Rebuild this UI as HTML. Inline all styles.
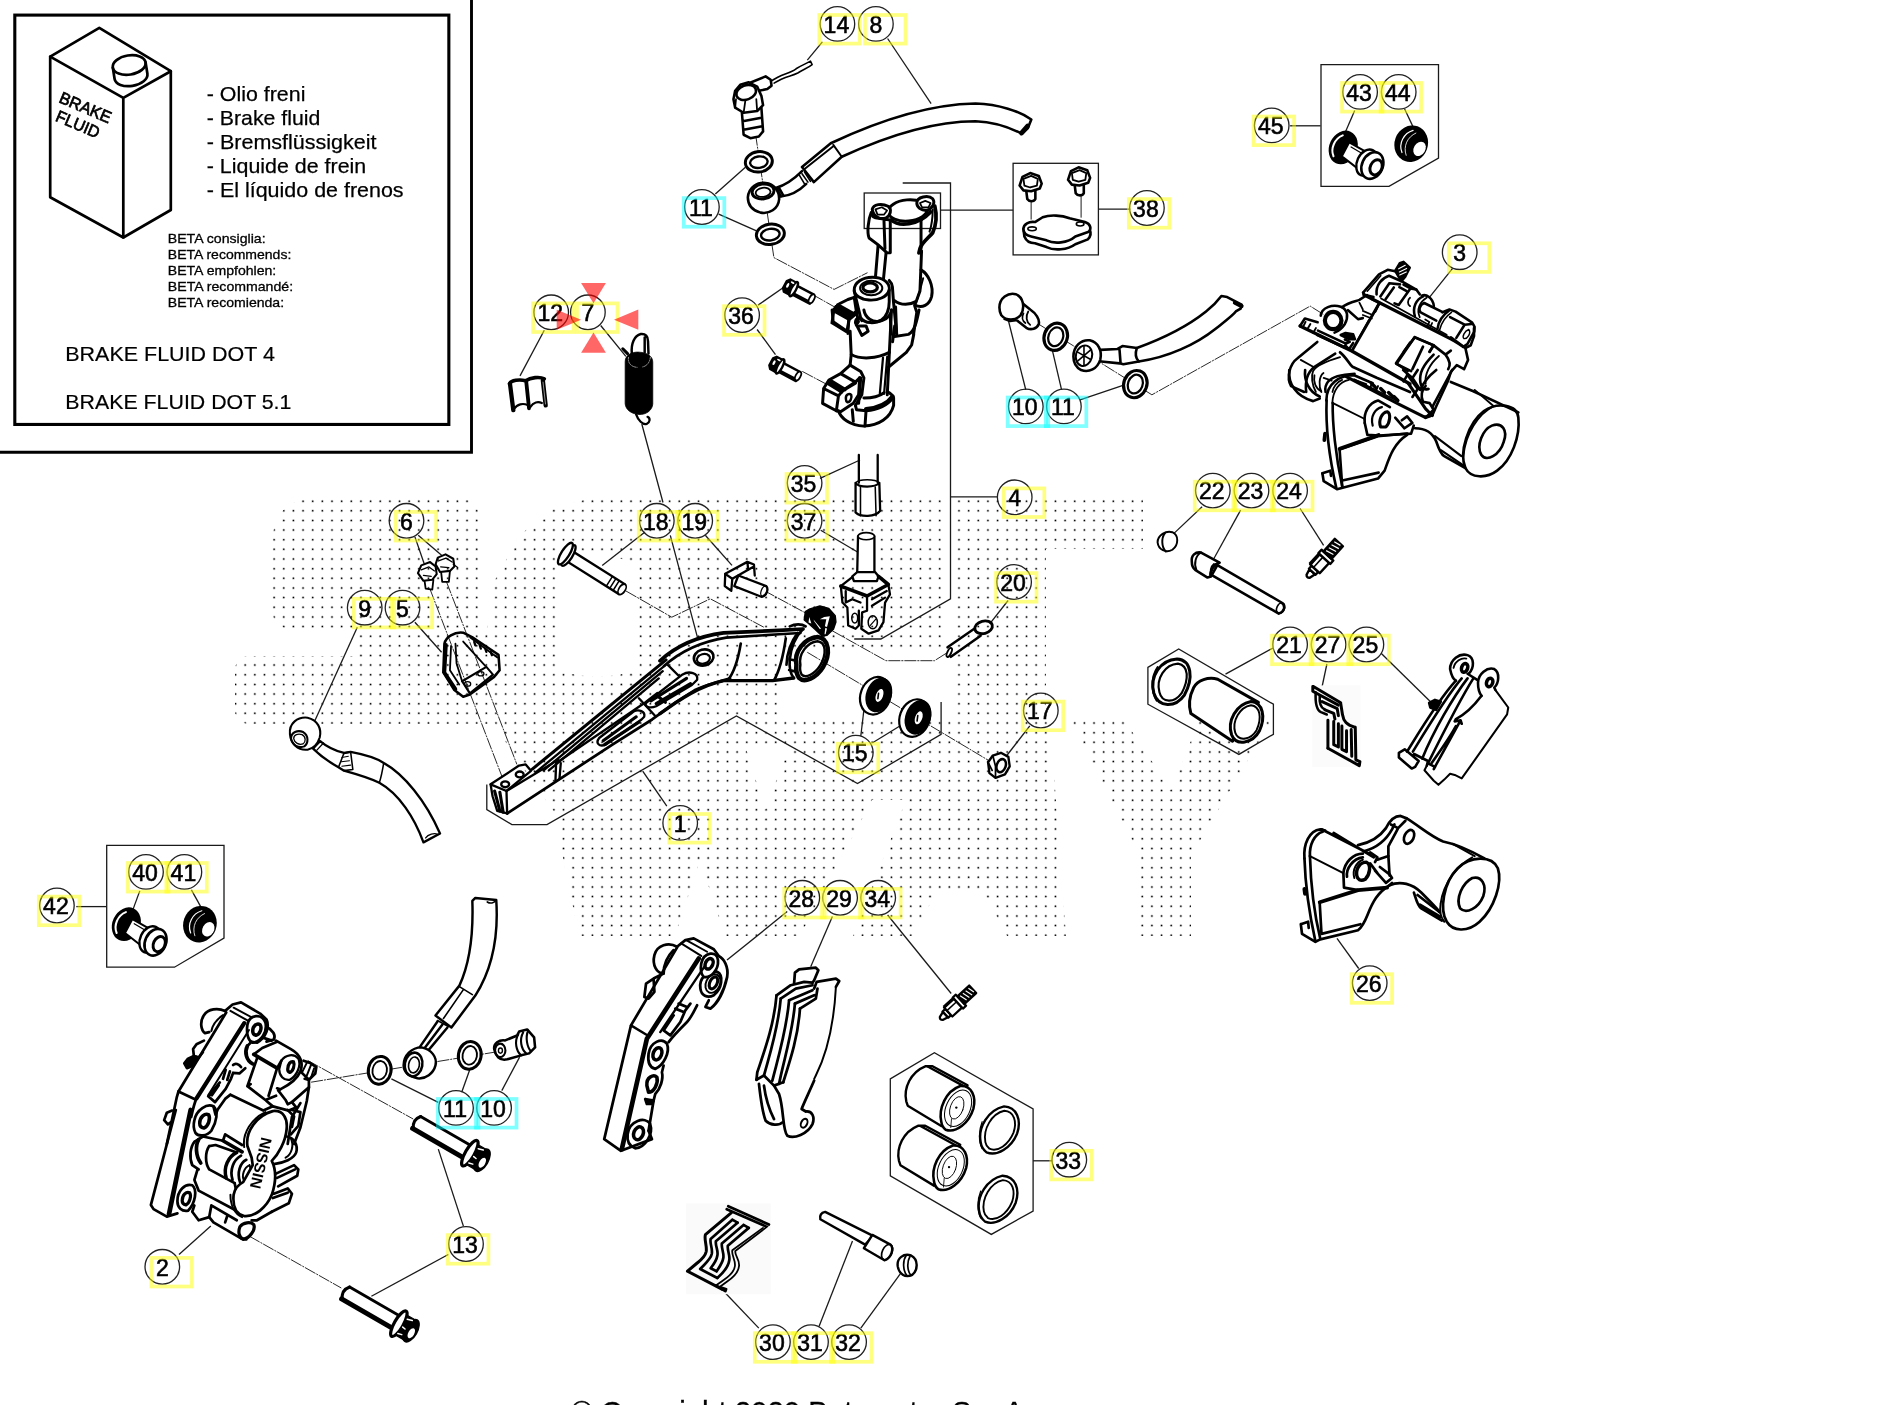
<!DOCTYPE html>
<html><head><meta charset="utf-8"><title>Brake system</title>
<style>
html,body{margin:0;padding:0;background:#fff;}
body{width:1891px;height:1405px;overflow:hidden;position:relative;font-family:"Liberation Sans",sans-serif;}
svg{position:absolute;left:0;top:0;display:block;}
text{filter:grayscale(1);}
.p{fill:#fff;stroke:#000;stroke-width:2;stroke-linejoin:round;stroke-linecap:round;}
.n{fill:none;stroke:#000;stroke-width:2;stroke-linejoin:round;stroke-linecap:round;}
.t{fill:none;stroke:#000;stroke-width:1.2;stroke-linejoin:round;stroke-linecap:round;}
.k{fill:#000;stroke:#000;stroke-width:1.5;stroke-linejoin:round;}
.l{fill:none;stroke:#1a1a1a;stroke-width:1.3;}
.d{fill:none;stroke:#2a2a2a;stroke-width:1;stroke-dasharray:12 1 2 1;}
.c{fill:none;stroke:#222;stroke-width:1.3;}
.cn{font-family:"Liberation Sans",sans-serif;font-size:23px;text-anchor:middle;fill:#000;stroke:#000;stroke-width:0.6;}
.hy{fill:none;stroke:#ffff00;stroke-opacity:0.5;stroke-width:3.7;}
.hc{fill:none;stroke:#00ffff;stroke-opacity:0.5;stroke-width:3.7;}
.tx{font-family:"Liberation Sans",sans-serif;fill:#000;}
</style></head><body>
<svg width="1891" height="1405" viewBox="0 0 1891 1405">
<!-- 00_watermark.svg -->
<clipPath id="wm">
<path d="M317 498.6 H459 Q479 498.6 479 518 V629 H491 V724 H250 Q235 724 235 709 V671 Q235 656 250 656 H355 V629 H292 Q272.5 629 272.5 610 V543 Q272.5 498.6 317 498.6 Z"/>
<path clip-rule="evenodd" d="M590 498 H1143 V549 H1046 V721 H1050 L1066 936 H1007 L985 895 H935 L912 936 H579 L562 853 L559 819 L511 751 L491 717 L485 640 L495 580 L520 535 L550 510 Z
M586 557 H609 Q639 557 639 587 V646 Q639 676 609 676 H586 Q556 676 556 646 V587 Q556 557 586 557 Z
M780 650 H944 V498 H954 V718 H780 Z
M872 800 H906 L853 936 H800 Z
M745 745 H790 L765 810 Z
M700 860 L675 936 H725 Z"/>
<path d="M1071 721 H1125 L1171 790 L1199 721 H1271 L1191 856 V936 H1140 V856 Z"/>
</clipPath>
<defs><path id="wmd" d="M235.54 501.14H1280M235.54 510.78H1280M235.54 520.43H1280M235.54 530.07H1280M235.54 539.72H1280M235.54 549.37H1280M235.54 559.01H1280M235.54 568.66H1280M235.54 578.30H1280M235.54 587.95H1280M235.54 597.60H1280M235.54 607.24H1280M235.54 616.89H1280M235.54 626.53H1280M235.54 636.18H1280M235.54 645.83H1280M235.54 655.47H1280M235.54 665.12H1280M235.54 674.76H1280M235.54 684.41H1280M235.54 694.06H1280M235.54 703.70H1280M235.54 713.35H1280M235.54 722.99H1280M235.54 732.64H1280M235.54 742.29H1280M235.54 751.93H1280M235.54 761.58H1280M235.54 771.22H1280M235.54 780.87H1280M235.54 790.52H1280M235.54 800.16H1280M235.54 809.81H1280M235.54 819.45H1280M235.54 829.10H1280M235.54 838.75H1280M235.54 848.39H1280M235.54 858.04H1280M235.54 867.68H1280M235.54 877.33H1280M235.54 886.98H1280M235.54 896.62H1280M235.54 906.27H1280M235.54 915.91H1280M235.54 925.56H1280M235.54 935.21H1280"/></defs>
<g clip-path="url(#wm)" fill="none" stroke="#000" stroke-linecap="round" stroke-dasharray="0 9.646"><use href="#wmd" stroke-width="3.0" stroke-opacity="0.22"/><use href="#wmd" stroke-width="1.5"/></g>

<!-- 01_box.svg -->
<g id="infobox">
<path d="M0 452.25 H471.5 V0" fill="none" stroke="#000" stroke-width="2.9"/>
<rect x="14.8" y="15.1" width="434.05" height="409.35" fill="none" stroke="#000" stroke-width="3.1"/>
<g fill="none" stroke="#000" stroke-width="2.7" stroke-linejoin="round" stroke-linecap="round">
<path d="M99.3 27.9 L50.2 56.6 L50.2 197.2 L123.3 237.5 L170.8 210 L170.8 71.2 Z"/>
<path d="M50.2 56.6 L123.3 97.9 L170.8 71.2 M123.3 97.9 V237.5"/>
<g transform="rotate(-9 129.2 65)">
<ellipse cx="129.2" cy="65" rx="16.6" ry="9.6" fill="#fff"/>
<path d="M112.6 65 V76.5 A16.6 9.6 0 0 0 145.8 76.5 V65"/>
</g>
</g>
<text class="tx" font-size="16.5" stroke="#000" stroke-width="0.7" transform="translate(57.9 102) rotate(23)" textLength="55" lengthAdjust="spacingAndGlyphs">BRAKE</text>
<text class="tx" font-size="16.5" stroke="#000" stroke-width="0.7" transform="translate(54.6 120.5) rotate(23)" textLength="46" lengthAdjust="spacingAndGlyphs">FLUID</text>
<g class="tx" font-size="21" stroke="#000" stroke-width="0.25" lengthAdjust="spacingAndGlyphs">
<text x="206.8" y="100.9" textLength="98.6" lengthAdjust="spacingAndGlyphs">- Olio freni</text>
<text x="206.8" y="124.9" textLength="113.5" lengthAdjust="spacingAndGlyphs">- Brake fluid</text>
<text x="206.8" y="148.8" textLength="169.7" lengthAdjust="spacingAndGlyphs">- Bremsflüssigkeit</text>
<text x="206.8" y="172.7" textLength="159.4" lengthAdjust="spacingAndGlyphs">- Liquide de frein</text>
<text x="206.8" y="196.5" textLength="196.8" lengthAdjust="spacingAndGlyphs">- El líquido de frenos</text>
</g>
<g class="tx" font-size="13" stroke="#000" stroke-width="0.3">
<text x="167.8" y="243.3" textLength="97.8" lengthAdjust="spacingAndGlyphs">BETA consiglia:</text>
<text x="167.8" y="259.3" textLength="123.5" lengthAdjust="spacingAndGlyphs">BETA recommends:</text>
<text x="167.8" y="275.3" textLength="108.5" lengthAdjust="spacingAndGlyphs">BETA empfohlen:</text>
<text x="167.8" y="291.3" textLength="125.3" lengthAdjust="spacingAndGlyphs">BETA recommandé:</text>
<text x="167.8" y="307.4" textLength="116.3" lengthAdjust="spacingAndGlyphs">BETA recomienda:</text>
</g>
<g class="tx" font-size="21" stroke="#000" stroke-width="0.2">
<text x="65.3" y="360.6" textLength="209.6" lengthAdjust="spacingAndGlyphs">BRAKE FLUID DOT 4</text>
<text x="65.3" y="408.5" textLength="226.1" lengthAdjust="spacingAndGlyphs">BRAKE FLUID DOT 5.1</text>
</g>
</g>

<!-- 02_frames.svg -->
<g class="l" stroke-width="1.4">
<path d="M1321 64.6 H1438.5 V158.1 L1389 186.3 H1321 Z"/>
<path d="M106.7 845.4 H224 V938.1 L174.5 967.2 H106.7 Z"/>
<rect x="1013.1" y="163.3" width="85.3" height="91.6"/>
<rect x="864.2" y="193" width="76.3" height="35.5"/>
<path d="M890.3 1078.9 L934.4 1052.8 L1033.1 1109 V1211 L991.3 1234.4 L890.3 1175.9 Z"/>
<path d="M1147.9 667.4 L1178.7 649 L1273.4 704.2 V734.3 L1238.9 754.4 L1147.9 704.2 Z"/>
<path d="M486.8 784.5 V809.6 L511.9 824.6 H547 L736.4 715.9 L857.5 783.5 L941.1 734.3 V701.9"/>
<path d="M902.7 183 H950.5 V598.8 L880.9 639 H854.2"/>
<path d="M950.5 496.8 H998"/>
</g>

<!-- 03_leaders.svg -->
<g class="l">
<path d="M544.3 330.2 L520 375.9"/>
<path d="M600.7 325.5 L625.9 356.3"/>
<path d="M822.4 41.8 L807.3 60.2"/>
<path d="M887.6 38.5 L931.1 103.7"/>
<path d="M715.3 194 L745.4 167.3"/>
<path d="M718.7 214.1 L756.5 230.9"/>
<path d="M758.1 305.1 L785.6 286"/>
<path d="M757.1 329.5 L775.5 354.6"/>
<path d="M940.5 210.1 H1013.1"/>
<path d="M1098.4 209.1 H1130.2"/>
<path d="M1025.8 389.8 L1008.1 319.5"/>
<path d="M1061.6 389.8 L1052.2 349.6"/>
<path d="M1080 399.8 L1125.2 384.7"/>
<path d="M1290.1 125.8 H1320.6"/>
<path d="M1354.7 110.4 L1345.3 132.2"/>
<path d="M1404.5 108.7 L1413.2 127.1"/>
<path d="M1452.4 268.7 L1429 297.8"/>
<path d="M414.9 536.9 L424.2 563.7"/>
<path d="M418.2 535.2 L441.6 555.3"/>
<path d="M357.3 627.2 L314.5 721.6"/>
<path d="M414.9 622.2 L441.6 652.3"/>
<path d="M76.3 906.6 H106.4"/>
<path d="M139.8 890.9 L132.2 911.6"/>
<path d="M191.4 889.9 L200.7 906.6"/>
<path d="M666.8 806.2 L642.7 771.1"/>
<path d="M645 532 L602.2 565.4"/>
<path d="M641.8 424 L663 502.5 M670.3 535.3 L698.2 640.2"/>
<path d="M705.3 535.2 L732 565.4"/>
<path d="M820 478.4 L860 460"/>
<path d="M820.7 530.2 L857.5 552"/>
<path d="M1008.1 600.5 L989.7 623.9"/>
<path d="M1029.8 725.9 L1006.4 756"/>
<path d="M860.8 736 L864.2 707.5"/>
<path d="M872.6 742.7 L902.7 724.3"/>
<path d="M787.2 911.6 L727 960.1"/>
<path d="M832.4 916.6 L810.7 966.8"/>
<path d="M887.6 915 L951.2 993.5"/>
<path d="M1202.1 506.8 L1173.7 533.6"/>
<path d="M1240.6 510.1 L1213.8 558.7"/>
<path d="M1225.5 674.1 L1273 648"/>
<path d="M1300.1 508.5 L1323.6 545.3"/>
<path d="M1326.9 664 L1321.9 687.5"/>
<path d="M1381.1 653.3 L1431.3 702.5"/>
<path d="M1337 938.3 L1358.7 968.5"/>
<path d="M438.3 1102.3 L391.4 1078.9"/>
<path d="M461.7 1092.2 L470.1 1068.8"/>
<path d="M501.8 1090.6 L519.6 1057.1"/>
<path d="M463.4 1226.1 L438.3 1149.1"/>
<path d="M448.3 1254.5 L371.4 1296.3"/>
<path d="M179 1254.5 L210.8 1226.1"/>
<path d="M1033.1 1160.8 H1052.2"/>
<path d="M758.8 1328.1 L723.7 1291.3"/>
<path d="M819 1326.4 L852.5 1241.1"/>
<path d="M860.8 1328.1 L901 1272.9"/>
</g>
<g class="d">
<path d="M755.5 133.8 L773.9 257.6 L834.1 289.4 L867.5 272.7"/>
<path d="M812.3 294.4 L839.1 309.5"/>
<path d="M802.3 371.4 L827.4 384.7"/>
<path d="M1036.5 322.8 L1151.9 394.8 L1310.2 306.1 L1323.6 314.5"/>
<path d="M429.9 588.8 L501.8 776.1"/>
<path d="M446.6 582.1 L516.9 764.4"/>
<path d="M626 591 L671.8 617.2 L710.3 598.8 L763.8 627.2"/>
<path d="M763.8 590.4 L807.3 613.9"/>
<path d="M946.2 653.3 L934.5 660.7 H885.9 L830.7 629.9"/>
<path d="M807.3 652.3 L989.7 761.1"/>
<path d="M311.1 1082.2 L495.1 1052.1"/>
<path d="M307.8 1060.5 L413.2 1119"/>
<path d="M249.2 1236.1 L341.3 1288"/>
</g>

<!-- p_01_pedal.svg -->
<g transform="translate(480,640) scale(0.13242)" fill="none" stroke="#000" stroke-width="17.5" stroke-linejoin="round" stroke-linecap="round">
<path d="M80 1090 L295 948 L345 940 L385 988 L200 1140 Z"/>
<path d="M80 1090 L95 1180 L130 1290 L205 1310 L200 1140"/>
<path d="M110 1140 L150 1290 M150 1150 L175 1300" stroke-width="23.4"/>
<ellipse cx="190" cy="1090" rx="30" ry="22"/><ellipse cx="300" cy="1015" rx="30" ry="22"/>
<path d="M205 1310 L1000 790 L1300 600 L1480 470 L1620 380 C1700 340 1800 320 1888 290" stroke-width="21.1"/>
<path d="M200 1140 L590 905"/>
<path d="M395 975 L1405 150" stroke-width="23.4"/>
<path d="M420 1000 L1400 190 M480 985 L1380 235 M520 985 L1350 290"/>
<path d="M590 920 L1250 470 L1340 400"/>
<path d="M575 920 L570 1060 M610 930 L600 1050 M1200 440 L1320 570 M1420 190 L1500 270"/>
<path d="M900 740 L1160 540 C1200 520 1250 540 1240 580 L1220 600 L950 790 C900 810 870 780 900 740 Z"/>
<path d="M930 760 L1180 580 M940 790 L1200 620" stroke-width="23.4"/>
<path d="M1260 470 L1530 260 C1580 230 1650 250 1640 300 L1600 340 L1330 500 C1280 520 1230 500 1260 470 Z"/>
<path d="M1290 460 L1560 290 M1330 480 L1590 330 M1350 430 L1400 470" stroke-width="23.4"/>
</g>
<g transform="translate(660,580) scale(0.13242)" fill="none" stroke="#000" stroke-width="19.9" stroke-linejoin="round" stroke-linecap="round">
<path d="M0 610 C100 520 250 430 480 400 L900 380 L1080 370" stroke-width="28.1"/>
<path d="M30 650 C130 560 280 470 500 435 L900 410 L1060 400"/>
<path d="M0 1010 C150 900 300 800 480 760 L850 760 L1010 740" stroke-width="25.7"/>
<path d="M610 480 C590 600 560 700 510 760 M950 440 C930 580 900 690 860 760"/>
<path d="M1080 370 C1030 420 990 500 980 600 C975 660 985 710 1010 740 M1040 400 C1000 450 960 540 955 640 M985 600 L1030 610 M975 680 L1020 690"/>
<path d="M1030 640 C1010 540 1090 440 1190 430 C1280 440 1290 560 1230 660 C1180 740 1090 780 1050 740 C1030 710 1025 680 1030 640 Z" stroke-width="34"/>
<path d="M1060 640 C1045 560 1110 470 1190 462 C1255 470 1260 560 1210 645 C1170 710 1100 745 1070 715 C1058 695 1055 670 1060 640 Z" stroke-width="18.7"/>
<path d="M980 350 C1020 330 1070 330 1100 350"/>
<ellipse cx="330" cy="585" rx="75" ry="60" transform="rotate(-15 330 585)"/>
<ellipse cx="328" cy="595" rx="50" ry="36" transform="rotate(-15 328 595)" stroke-width="16.4"/>
</g>
<g transform="translate(795,595) scale(0.035587)">
<path d="M290 470 L420 390 L700 310 L950 380 L1130 580 L1150 760 L1080 960 L900 1130 L760 1150 L560 960 L380 800 L260 700 Z" fill="#000" stroke="#000" stroke-width="40" stroke-linejoin="round"/>
<path d="M400 620 L460 800 L380 770 Z M520 690 L730 940 L700 960 L540 740 Z M700 680 L820 620 L980 600 L900 900 L840 880 L880 680 Z M850 930 L900 940 L860 1100 L830 1100 Z" fill="#fff"/>
</g>

<!-- p_02_frontcal.svg -->
<g transform="translate(135,995) scale(0.10604)" fill="none" stroke="#000" stroke-width="25.7" stroke-linejoin="round" stroke-linecap="round">
<path d="M850 150 L920 90 L1000 70 L1180 175 L1240 230 C1270 300 1240 400 1150 450 L1090 440"/>
<path d="M900 150 L1060 240 M930 120 L1100 210" stroke-width="18.7"/>
<path d="M1060 280 C1080 180 1200 170 1230 260 C1250 350 1190 440 1110 450 C1060 430 1050 350 1060 280 Z"/>
<path d="M1110 340 C1110 290 1150 260 1180 280 C1200 310 1180 370 1140 380 C1115 375 1110 360 1110 340 Z" stroke-width="32.8"/>
<path d="M1240 300 C1300 330 1330 380 1310 420 L1240 440 M1200 400 L1290 430"/>
<path d="M850 150 C780 120 690 130 650 190 C610 250 620 330 660 360 L700 350"/>
<path d="M830 190 C770 230 730 290 720 340" stroke-width="18.7"/>
<path d="M860 165 L410 910"/>
<path d="M1030 265 L580 975" stroke-width="39.8"/>
<path d="M1075 330 L690 945" stroke-width="18.7"/>
<path d="M410 910 L570 985 M410 910 L395 960 L300 1405"/>
<path d="M580 975 C560 1020 545 1080 530 1150"/>
<path d="M650 430 L580 465 L548 510 L555 575 L600 590 L640 540"/>
<path d="M555 575 L500 600 L465 645 L490 690 L540 670 L600 590 Z" fill="#000"/>
<path d="M350 1090 L300 1110 L275 1180 L310 1220 L340 1200"/>
<path d="M800 825 L690 955 L755 1010 L855 885 L905 790 L925 735 M790 850 L725 945 M855 705 L830 790 M895 720 L870 800 M925 735 L985 740 L1040 690 M925 660 C945 640 980 650 1000 680"/>
<path d="M1330 430 L1470 510 C1560 560 1590 640 1560 720 C1530 790 1450 850 1370 890 L1340 880"/>
<path d="M1340 440 L1200 500 L1120 560"/>
<path d="M1380 620 C1420 560 1500 550 1540 600 C1570 660 1530 760 1460 800 C1400 810 1360 760 1360 700 Z" stroke-width="21.1"/>
<path d="M1440 700 C1440 650 1470 620 1495 630 C1510 660 1490 720 1460 730 C1445 725 1440 715 1440 700 Z" stroke-width="30.4"/>
<path d="M1120 560 L1340 690" stroke-width="35.1"/>
<path d="M1340 690 L1380 620 M1340 690 L1260 950 M1150 600 L1060 860 L1230 990 L1330 950 M1060 860 L1090 840"/>
<path d="M1060 480 C1030 540 1050 620 1110 650" stroke-width="35.1"/>
<path d="M1090 450 L1060 480"/>
<path d="M1590 620 L1650 640 L1710 680 L1700 740 L1640 800 L1600 790"/>
<path d="M1620 640 L1580 720 M1660 660 L1620 760 M1690 690 L1660 780" stroke-width="18.7"/>
<path d="M1560 720 L1640 800 L1640 870 L1480 1010 L1440 1030 L1420 990 L1350 900 L1370 890"/>
<path d="M1480 1010 L1520 1060 L1450 1090 L1300 1050 L1240 1000"/>
<path d="M1640 870 L1620 1000 L1560 1250 L1500 1405 M1560 1020 L1480 1150 L1440 1405"/>
<path d="M900 940 L1210 1090 L1300 1050 M900 940 L850 980 L780 1080 L760 1130 L740 1050"/>
<path d="M560 1180 C580 1080 680 1020 740 1050 C790 1090 770 1200 720 1280 C680 1330 600 1340 570 1300 C550 1260 550 1220 560 1180 Z"/>
<path d="M610 1210 C610 1150 660 1110 695 1130 C715 1170 690 1240 650 1255 C620 1250 610 1235 610 1210 Z" stroke-width="32.8"/>
</g>
<g transform="translate(135,1110) scale(0.10604)" fill="none" stroke="#000" stroke-width="25.7" stroke-linejoin="round" stroke-linecap="round">
<path d="M385 0 L150 895 L175 935 L300 1005 L400 975"/>
<path d="M525 0 L320 985" stroke-width="44.5"/>
<path d="M400 860 C400 760 470 690 540 710 C590 750 570 880 500 950 C440 960 400 920 400 860 Z"/>
<path d="M445 855 C445 800 485 765 515 780 C535 810 515 880 480 895 C455 890 445 875 445 855 Z" stroke-width="30.4"/>
<path d="M560 300 C520 350 510 450 540 520 L600 560 M560 300 L640 250 L830 290 L850 230 L1010 330"/>
<path d="M600 280 C570 330 570 430 620 500" stroke-width="35.1"/>
<path d="M700 340 C660 400 660 500 700 560 L940 690 M700 340 L760 330 L960 400"/>
<path d="M960 400 C880 440 830 540 860 640" stroke-width="32.8"/>
<path d="M1000 430 C930 470 890 560 920 660 M1050 470 C990 500 960 590 990 680"/>
<path d="M1080 520 C1030 540 1000 620 1030 670 C1080 680 1110 600 1080 520" stroke-width="18.7"/>
<path d="M830 290 L1010 395" stroke-width="35.1"/>
<path d="M1060 340 C1040 200 1150 50 1300 10 C1400 0 1440 80 1430 180 C1420 300 1350 420 1290 480 C1330 560 1330 680 1290 800 C1240 920 1130 1010 1030 1000 C950 980 920 900 930 800 C940 740 980 700 1020 680 L1110 520 L1100 450 Z" fill="#fff"/>
<path d="M1030 350 C1010 220 1100 80 1230 20 M900 800 C900 900 940 980 1010 1010" stroke-width="18.7"/>
<path d="M1430 250 C1500 260 1540 330 1520 400 C1500 460 1400 500 1310 510"/>
<path d="M1470 270 C1500 330 1480 420 1420 450" stroke-width="18.7"/>
<path d="M1330 600 L1500 520 L1540 560 L1530 620 L1350 720 M1340 640 L1510 560"/>
<path d="M1310 790 L1440 740 L1480 790 L1450 880 L1290 960 M1300 830 L1440 780"/>
<path d="M1290 960 L1150 1040 L1100 1040"/>
<path d="M1480 0 L1560 20 L1540 150 L1470 230 M1440 0 L1500 60 L1480 160"/>
<path d="M720 900 L700 1010 L740 1060 L1000 1210 L1050 1220 M720 900 L960 1040"/>
<path d="M990 1100 C1020 1060 1090 1050 1120 1080 C1140 1130 1080 1210 1020 1220 C980 1200 970 1150 990 1100 Z" stroke-width="30.4"/>
<path d="M560 900 L540 960 L600 1040 L700 1010 M870 1000 L850 1060"/>
<path d="M600 760 L940 940 M560 660 L600 760 M590 560 L560 660 M940 690 L950 740"/>
</g>
<text class="tx" font-size="15.5" font-weight="bold" transform="translate(261.5,1136.5) rotate(103)" textLength="52" lengthAdjust="spacingAndGlyphs">NISSIN</text>

<!-- p_03a_rearcal_top.svg -->
<g transform="translate(1350,255) scale(0.069037)" fill="none" stroke="#000" stroke-width="37.4" stroke-linejoin="round" stroke-linecap="round">
<path d="M190 545 L420 280 L545 215 L655 235"/>
<path d="M250 525 L445 300" stroke-width="23.4"/>
<path d="M190 545 L205 575 L340 610"/>
<path d="M385 570 C370 430 470 330 565 300 L745 380 L960 500 L1010 570"/>
<path d="M655 230 L720 120 L775 100 L865 185 L800 315 L745 380 Z" fill="#000"/>
<path d="M705 200 L800 150 M715 245 L820 195 M720 290 L815 245" stroke="#fff" stroke-width="16.4"/>
<path d="M570 410 L440 600 M570 410 L725 425 M635 470 L515 640"/>
<path d="M775 430 L875 485 L705 725 L645 700 M715 465 L815 520"/>
<path d="M875 485 L960 500"/>
<path d="M200 575 L1480 1225" stroke-width="46.8"/>
<path d="M450 630 L1400 1155" stroke-width="25.7"/>
<path d="M1060 600 C960 640 900 760 940 890"/>
<path d="M1110 620 C1010 680 960 790 1010 900" stroke-width="25.7"/>
<path d="M1040 590 C1100 560 1200 620 1215 740"/>
<path d="M1075 695 L1335 825 M1030 835 L1250 950 M1075 695 C1000 720 990 820 1030 835"/>
<path d="M1090 935 L1150 970 L1120 1030 M1190 985 L1160 1050" stroke-width="25.7"/>
<path d="M870 620 C830 650 830 720 870 740" stroke-width="25.7"/>
<path d="M1340 830 L1440 790 L1530 820 L1770 980 L1805 1040 L1800 1110 L1700 1290 L1640 1330"/>
<path d="M1440 800 C1330 880 1280 980 1270 1060"/>
<path d="M1470 830 C1370 900 1320 1000 1300 1080" stroke-width="23.4"/>
<path d="M1450 900 L1660 1010 L1540 1200 M1660 1010 L1760 1000"/>
<path d="M1720 1080 C1660 1100 1620 1180 1650 1210 C1700 1220 1760 1130 1720 1080" stroke-width="21.1"/>
<path d="M1480 1230 L1580 1290 L1640 1330"/>
<path d="M940 1190 L780 1400 M940 1190 L1210 1310 L1150 1400"/>
</g>
<g transform="translate(1280,295) scale(0.069037)" fill="none" stroke="#000" stroke-width="37.4" stroke-linejoin="round" stroke-linecap="round">
<path d="M590 300 C600 180 760 130 880 170 C990 210 990 330 940 420 C900 480 830 530 790 545"/>
<ellipse cx="770" cy="370" rx="120" ry="125" stroke-width="60.8"/>
<path d="M900 175 C1000 100 1100 90 1150 70 L1260 0"/>
<path d="M985 220 L1130 350 L1200 335"/>
<path d="M1150 110 L1200 210 M1200 230 L1340 290 M1200 290 L1330 340" stroke-width="25.7"/>
<path d="M1330 60 L1440 110 L1380 240"/>
<path d="M1440 115 L1045 805" stroke-width="42.1"/>
<path d="M1285 365 L1110 680" stroke-width="23.4"/>
<path d="M880 580 L950 550 L1060 570 L1085 640 L1000 640 Z" fill="#000"/>
<path d="M290 450 L360 340 L545 395"/>
<path d="M370 390 L340 450 M440 420 L400 490 M520 480 L480 550" stroke-width="28.1"/>
<path d="M290 450 L1040 810 L1883 1290" stroke-width="49.1"/>
<path d="M550 515 L955 705 L1010 680 L940 645 M955 705 L935 760 L540 580"/>
<path d="M960 745 L1000 785 L1060 695"/>
<path d="M870 830 C960 900 1000 1000 1050 1040 L1400 1200 L1883 1405" stroke-width="39.8"/>
<path d="M540 680 L250 920 C140 1000 90 1200 160 1320 L350 1405"/>
<path d="M300 940 L480 1040" stroke-width="25.7"/>
<path d="M800 850 L500 1040 C400 1120 360 1250 380 1405"/>
<path d="M870 900 C700 950 520 1030 480 1100 C450 1170 460 1300 520 1405" stroke-width="25.7"/>
<path d="M630 1130 C560 1180 560 1330 600 1405" stroke-width="25.7"/>
<path d="M1080 1140 C900 1150 760 1180 700 1250 C660 1300 650 1360 660 1405"/>
<path d="M900 1230 C820 1260 770 1340 760 1405" stroke-width="25.7"/>
<path d="M1883 690 L1680 990 L1850 1100 M1850 1150 L1790 1250"/>
<path d="M1080 1230 L1250 1290 M1330 1280 L1310 1340 M1420 1320 L1390 1390" stroke-width="28.1"/>
</g>

<!-- p_03b_rearcal_low.svg -->
<g transform="translate(1280,250) scale(0.13242)" fill="none" stroke="#000" stroke-width="19.9" stroke-linejoin="round" stroke-linecap="round">
<path d="M1290 660 L1400 740 L1420 830 L1390 900 L1335 870 L1290 920 L1270 985 L1180 1180 L1150 1250 L1090 1260"/>
<path d="M1015 660 L880 860 L990 915 M1015 660 L1160 720 L1130 770 M1080 730 L1000 900"/>
<path d="M1160 790 C1080 870 1050 930 1060 1000 C1065 1040 1090 1060 1120 1050"/>
<path d="M1200 800 C1130 860 1090 940 1100 1010" stroke-width="14"/>
<path d="M1250 790 C1280 830 1290 870 1270 900 M1160 720 L1250 790 L1290 760"/>
<path d="M1400 740 L1440 720 L1465 650 L1465 590"/>
<path d="M960 940 L1040 1050 L1000 1110 M1040 1050 L1120 1050"/>
<path d="M970 1010 L1100 1200 L1150 1250" stroke-width="23.4"/>
</g>
<g transform="translate(1280,370) scale(0.13242)" fill="none" stroke="#000" stroke-width="19.9" stroke-linejoin="round" stroke-linecap="round">
<path d="M1400 740 C1350 620 1420 400 1540 310 C1640 240 1790 260 1800 360 C1815 500 1750 680 1640 760 C1560 820 1440 820 1400 740 Z"/>
<path d="M1520 640 C1480 570 1530 450 1600 420 C1680 390 1720 460 1690 540 C1660 640 1560 700 1520 640 Z"/>
<path d="M1610 275 C1500 330 1400 480 1385 650" stroke-width="14"/>
<path d="M1290 90 L1460 160 L1800 320"/>
<path d="M1470 150 L1610 270" stroke-width="14"/>
<path d="M1020 440 C1100 440 1150 470 1180 540 C1200 600 1220 640 1240 650 L1400 740"/>
<path d="M1170 500 L1370 650 M1215 605 L1385 720" stroke-width="16.4"/>
<path d="M350 230 C350 100 450 40 560 40 L700 100"/>
<path d="M395 250 C400 150 450 90 520 75" stroke-width="14"/>
<path d="M352 230 C345 400 370 650 425 890" />
<path d="M398 250 C395 400 420 650 470 880"/>
<path d="M340 480 L335 530" stroke-width="28.1"/>
<path d="M320 780 L330 840 L430 900 L740 820 L790 760 C820 680 850 560 960 490"/>
<path d="M320 780 L380 760 L385 800"/>
<path d="M450 600 L470 880 M450 600 L740 500 L960 480 M470 835 L745 775"/>
<path d="M450 595 L745 490" stroke-width="28.1"/>
<path d="M640 400 L660 490 L750 495 L990 480 L1010 420"/>
<path d="M400 250 L640 370" stroke-width="14"/>
<path d="M640 400 C630 320 670 250 740 230 L830 280"/>
<path d="M700 420 C680 350 720 290 770 280" stroke-width="16.4"/>
<path d="M760 430 C740 380 770 320 810 315 C840 330 830 400 800 430 Z" stroke-width="23.4"/>
<path d="M870 360 L940 440 L1000 400 L960 350 L920 380"/>
<path d="M500 50 L900 260 L1100 360 L1150 340" stroke-width="23.4"/>
<path d="M560 70 L880 230" stroke-width="14"/>
<path d="M690 100 L720 130 M760 140 L790 170 M820 170 L850 200 M860 200 L890 230" stroke-width="25.7"/>
<path d="M1100 360 L1160 300 L1130 250 L1080 240 C1060 200 1070 150 1100 120"/>
<path d="M1180 0 C1130 40 1080 100 1060 150 M1300 0 L1150 280"/>
<path d="M70 0 C60 100 120 200 250 235 L300 215"/>
<path d="M190 0 C180 80 220 170 300 200"/>
<path d="M260 40 C250 90 270 140 310 160 M330 60 L390 80" stroke-width="14"/>
<path d="M930 0 L1000 60 L1060 150 M1000 60 L1040 0"/>
</g>

<!-- p_04_master.svg -->
<g transform="translate(780,185) scale(0.10604)" fill="none" stroke="#000" stroke-width="28.1" stroke-linejoin="round" stroke-linecap="round">
<ellipse cx="1205" cy="240" rx="185" ry="100" transform="rotate(-5 1205 240)"/>
<path d="M1050 330 C1120 395 1300 385 1420 255" stroke-width="35.1"/>
<path d="M870 230 C880 180 960 170 1020 200 C1060 230 1040 290 1000 310 C950 330 880 300 870 230 Z" fill="#fff"/>
<path d="M900 230 L960 210 L1010 240 L980 280 L920 280 Z" stroke-width="16.4"/>
<path d="M1290 170 C1290 110 1400 90 1440 130 C1470 170 1430 230 1380 240 C1330 240 1290 210 1290 170 Z" fill="#fff"/>
<path d="M1320 170 L1370 150 L1420 170 L1400 210 L1340 210 Z" stroke-width="16.4"/>
<path d="M860 260 C830 330 820 450 840 500 L920 560 L1010 640 L1040 640 L1040 340"/>
<path d="M980 320 L990 600 M870 250 C860 280 870 300 900 310 L1040 330"/>
<path d="M1460 200 C1480 280 1470 380 1440 450 C1400 500 1340 540 1320 600 L1310 640" stroke-width="35.1"/>
<path d="M1440 230 C1440 300 1430 380 1410 440" stroke-width="18.7"/>
<path d="M1420 250 L1330 330 L1330 600"/>
<path d="M925 570 L900 870 M1000 640 L975 895 M1335 620 L1320 1000 L1280 1110"/>
<path d="M1330 800 C1400 840 1450 950 1430 1050 C1410 1130 1340 1170 1270 1130"/>
<path d="M1350 880 C1330 960 1310 1030 1290 1090" stroke-width="18.7"/>
<path d="M1080 1090 C1140 1140 1230 1130 1280 1100"/>
<path d="M700 990 C700 920 780 870 870 870 C970 870 1040 920 1030 990 C1010 1060 920 1090 840 1085 C760 1080 700 1040 700 990 Z" fill="#fff"/>
<ellipse cx="860" cy="972" rx="105" ry="68" stroke-width="18.7"/>
<ellipse cx="850" cy="966" rx="68" ry="42" stroke-width="30.4"/>
<path d="M700 1000 L760 1250 C800 1310 900 1310 960 1270 C1010 1230 1030 1180 1030 1100 L1030 990"/>
<path d="M1030 900 C1050 920 1060 940 1060 960 L1070 1100 L1100 1405"/>
<path d="M490 1300 L510 1170 L560 1120 L640 1080 L700 1060 M510 1170 L650 1250 L640 1400 M490 1300 L620 1380"/>
<path d="M530 1150 L670 1230 M545 1135 L680 1210" stroke-width="37.4"/>
<path d="M650 1250 L720 1190 L740 1290 L720 1320 M700 1060 L720 1190"/>
<path d="M1090 1150 L1100 1405 M1270 1140 L1290 1200 L1260 1405 M1040 1250 L1050 1405"/>
</g>
<g transform="translate(760,310) scale(0.10604)" fill="none" stroke="#000" stroke-width="28.1" stroke-linejoin="round" stroke-linecap="round">
<path d="M680 0 L690 110 L820 200 L840 90 L680 0 M840 90 L900 40 L920 0"/>
<path d="M900 120 L960 240 L1020 200 L1000 150 L940 150 M900 120 C900 80 940 60 960 100"/>
<path d="M980 0 C990 70 1060 130 1150 100 C1210 80 1240 30 1240 0"/>
<path d="M850 200 L860 420 L850 520 M1240 0 L1220 400 L1200 800"/>
<path d="M1500 0 C1480 100 1460 200 1400 230 L1270 250 M1450 230 L1430 330 L1380 400 L1210 540 M1270 150 L1250 300"/>
<path d="M860 420 C950 470 1100 460 1220 400"/>
<path d="M1160 450 L1130 790 M1200 440 L1170 790" stroke-width="21.1"/>
<path d="M600 740 L590 880 L720 950 L740 810 Z M600 740 L650 660 L760 600 L900 680 L780 760 L740 810 M760 600 L850 520"/>
<path d="M640 690 L770 770 M670 670 L800 750" stroke-width="35.1"/>
<path d="M850 520 L950 580 L980 640 L960 800 L900 900 M900 680 L940 640"/>
<path d="M780 760 L900 690 M940 640 L930 800 L880 880 L760 960 L720 950"/>
<path d="M810 840 C805 800 840 780 860 800 C870 830 850 870 825 870 C812 865 810 850 810 840 Z" stroke-width="23.4"/>
<path d="M900 900 L910 940 L1000 950 C1100 940 1200 900 1250 830"/>
<path d="M740 950 C760 1020 850 1090 980 1095 C1120 1090 1230 1020 1260 900 L1260 830 C1250 800 1220 780 1200 770"/>
<path d="M980 830 C1050 830 1130 810 1170 780 M1000 950 L990 1095 M870 940 L880 1050 M950 640 L930 880"/>
<path d="M1000 935 C1100 925 1200 885 1250 815" stroke-width="39.8"/>
</g>

<!-- p_07_12.svg -->
<g transform="translate(500,325) scale(0.095184)" fill="none" stroke="#000" stroke-linejoin="round" stroke-linecap="round">
<path d="M1385 300 C1375 200 1410 110 1480 95 C1530 90 1555 120 1555 170 L1560 300 M1520 130 L1520 290" stroke-width="26"/>
<path d="M1290 250 L1340 300" stroke-width="32"/>
<path d="M1315 380 C1315 320 1380 280 1460 285 C1550 290 1605 330 1605 390 L1605 830 C1600 900 1530 945 1460 940 C1380 935 1320 890 1315 830 Z" fill="#000" stroke-width="8"/>
<path d="M1350 340 C1340 400 1380 440 1440 445 M1580 340 C1570 400 1540 430 1500 440" stroke="#fff" stroke-width="6" stroke-dasharray="14 12"/>
<path d="M1430 940 C1450 1000 1500 1050 1540 1040 C1580 1020 1580 980 1550 965" stroke-width="24"/>
<path d="M100 615 C120 580 200 570 270 585 C320 550 420 540 465 565" stroke-width="38"/>
<path d="M105 620 L140 895" stroke-width="45"/>
<path d="M275 590 L305 875" stroke-width="40"/>
<path d="M450 580 L480 845" stroke-width="45"/>
<path d="M452 600 L478 830" stroke="#bbb" stroke-width="8"/>
<path d="M150 880 C180 830 240 820 290 840 M320 860 C350 810 400 800 440 820" stroke-width="22"/>
</g>

<!-- p_08_hose.svg -->
<g transform="translate(725,40) scale(0.16923)" fill="none" stroke="#000" stroke-width="15.2" stroke-linejoin="round" stroke-linecap="round">
<path d="M625 610 C900 480 1200 380 1480 375 C1620 380 1740 420 1810 470 L1790 520 L1755 555 C1690 520 1600 485 1480 480 C1230 480 950 570 690 690 L525 840 L455 750 Z" fill="#fff"/>
<path d="M1788 508 L1752 550" stroke-width="28.1"/>
<path d="M640 620 L690 690 M470 762 L640 628" stroke-width="11.7"/>
<path d="M440 800 L470 850 M455 790 L490 840 M470 780 L505 835" stroke-width="9.36"/>
<path d="M455 775 C400 830 350 860 300 875 M480 850 C430 900 380 920 330 925 M305 880 L330 925 M320 875 L345 920"/>
<path d="M135 930 C140 870 190 840 240 845 C290 850 320 890 320 940 C315 1000 260 1030 210 1020 C160 1005 135 970 135 930 Z" fill="#fff"/>
<ellipse cx="225" cy="895" rx="65" ry="44" transform="rotate(-8 225 895)" stroke-width="17.5"/>
<ellipse cx="225" cy="900" rx="44" ry="27" transform="rotate(-8 225 900)" stroke-width="10.5"/>
<ellipse cx="200" cy="720" rx="80" ry="60" transform="rotate(-8 200 720)" stroke-width="17.5" fill="#fff"/>
<ellipse cx="200" cy="722" rx="52" ry="34" transform="rotate(-8 200 722)" stroke-width="14"/>
<ellipse cx="268" cy="1148" rx="83" ry="60" transform="rotate(-8 268 1148)" stroke-width="17.5" fill="#fff"/>
<ellipse cx="268" cy="1150" rx="55" ry="34" transform="rotate(-8 268 1150)" stroke-width="14"/>
<path d="M100 430 L110 560 L150 580 L200 570 L225 540 L215 400 M105 480 L215 460 M110 530 L220 510" fill="#fff"/>
<path d="M130 260 L240 215 L270 235 L275 270 L250 290 L200 300" fill="#fff"/>
<path d="M50 350 L60 300 L90 265 L140 250 L190 275 L215 330 L225 385 L190 420 L110 430 L60 400 Z" fill="#fff"/>
<ellipse cx="125" cy="310" rx="60" ry="42" transform="rotate(-20 125 310)"/>
<path d="M60 400 L65 350 M110 430 L120 360 M190 420 L185 350" stroke-width="10.5"/>
<path d="M270 245 C330 200 380 200 420 170 C450 150 480 140 505 125 L515 145 C490 165 460 175 430 195 C390 215 350 215 290 255" stroke-width="9.36"/>
</g>

<!-- p_09_05_06.svg -->
<g transform="translate(280,540) scale(0.22071)" fill="none" stroke="#000" stroke-width="10.5" stroke-linejoin="round" stroke-linecap="round">
<path d="M320 960 C400 975 440 990 470 1010 C560 1060 660 1180 725 1330 L650 1370 C610 1260 540 1150 450 1100 C420 1085 380 1070 290 1045 L265 1030 C230 1010 190 985 150 945 L180 910 C210 935 250 955 290 965 Z" fill="#fff"/>
<path d="M470 1010 C465 1040 460 1070 450 1100 M290 965 L320 960 L330 1040 L290 1045 M265 1030 L290 965" stroke-width="7.02"/>
<path d="M280 985 L310 980 M278 1005 L315 1000 M280 1025 L320 1020" stroke-width="4.68"/>
<path d="M155 940 L185 912 M167 952 L197 920" stroke-width="5.85"/>
<path d="M660 1350 C670 1335 700 1325 715 1335" stroke-width="5.85"/>
<path d="M45 880 C40 830 80 800 125 805 C170 815 190 855 180 895 C170 925 150 945 125 950 C80 955 48 920 45 880 Z" fill="#fff" stroke-width="9.36"/>
<path d="M50 900 C50 870 80 860 105 870 C130 885 130 920 110 935 C85 945 55 930 50 900 Z" stroke-width="9.36"/>
<path d="M62 900 C62 882 82 875 100 882 C118 892 118 915 104 924 C86 930 66 920 62 900 Z" stroke-width="5.85"/>
<path d="M745 470 C750 440 790 415 830 420 L870 440 L990 520 L995 590 L970 620 L860 700 L830 710 L790 680 L740 600 Z" stroke-width="11.7"/>
<path d="M752 475 L745 600 L795 675" stroke-width="16.4"/>
<path d="M775 480 L770 590 L812 655 M795 470 L800 560 L825 640 M830 460 L930 570 M862 442 L985 532" stroke-width="8.19"/>
<path d="M880 462 L885 477 M905 477 L910 492 M930 492 L935 507 M955 507 L960 522" stroke-width="10.5"/>
<path d="M825 640 L935 575 L965 610 L860 695 Z" stroke-width="9.36"/>
<ellipse cx="850" cy="652" rx="14" ry="10" stroke-width="5.85"/><ellipse cx="910" cy="606" rx="14" ry="10" stroke-width="5.85"/>
<path d="M655 185 L660 220 L690 225 L695 180" stroke-width="8.19"/>
<path d="M625 150 L640 115 L680 100 L705 120 L710 155 L690 180 L650 185 Z" stroke-width="9.36"/>
<path d="M640 135 L675 122 L700 140 M650 160 L685 165" stroke-width="5.85"/>
<path d="M730 145 L735 190 L765 190 L770 140" stroke-width="8.19"/>
<path d="M705 110 L715 80 L750 65 L785 85 L790 120 L770 140 L725 145 Z" stroke-width="9.36"/>
<path d="M718 95 L752 82 L780 100 M728 122 L765 125 M785 110 L805 125" stroke-width="5.85"/>
</g>

<!-- p_13_hose.svg -->
<defs>
<g id="bolt13" stroke="#000" stroke-linejoin="round" stroke-linecap="round">
<path d="M2 -7.2 H61 V7.2 H2 Q-4 0 2 -7.2 Z" fill="#fff" stroke="none"/>
<path d="M2 -7.2 H61" fill="none" stroke-width="2.92"/>
<path d="M1 7.2 H61" fill="none" stroke-width="4.91"/>
<path d="M2 -7.2 Q-4 0 2 7.2" fill="none" stroke-width="3.04"/>
<path d="M63 -11.5 H77 V11.5 H63 Z" fill="#000" stroke-width="1.17"/>
<ellipse cx="63" cy="0" rx="4.5" ry="14.5" fill="#fff" stroke-width="3.28"/>
<ellipse cx="77" cy="0" rx="6" ry="12.3" fill="#000" stroke-width="1.75"/>
<ellipse cx="78.5" cy="2" rx="3" ry="5.5" fill="#fff" stroke="none"/>
<path d="M68 -8 L73 -9.5 M68 1 L71 1.5 M67 9 L71 8" stroke="#fff" stroke-width="1.52" fill="none"/>
</g>
</defs>
<use href="#bolt13" transform="translate(415.3,1121.7) rotate(30)"/>
<use href="#bolt13" transform="translate(344.3,1292.2) rotate(30)"/>
<g transform="translate(300,890) scale(0.19924)" fill="none" stroke="#000" stroke-width="12.3" stroke-linejoin="round" stroke-linecap="round">
<path d="M865 55 L880 40 L985 50 C995 200 975 380 880 530 L760 690 L680 630 L800 480 C860 350 870 200 865 55 Z" fill="#fff"/>
<path d="M940 60 C955 70 975 65 980 55 M800 485 L865 525 M820 500 L720 645 M690 655 L745 685" stroke-width="8.19"/>
<path d="M690 660 L600 790 M740 690 L640 810 M715 675 L620 800"/>
<path d="M520 880 C520 830 560 790 610 790 C660 800 690 840 680 880 C670 920 630 950 590 945 C545 935 520 915 520 880 Z" fill="#fff"/>
<ellipse cx="570" cy="876" rx="44" ry="60" transform="rotate(10 570 876)" stroke-width="12.9"/>
<ellipse cx="572" cy="878" rx="27" ry="40" transform="rotate(10 572 878)" stroke-width="8.19"/>
<ellipse cx="400" cy="905" rx="57" ry="70" transform="rotate(10 400 905)" stroke-width="15.2" fill="#fff"/>
<ellipse cx="400" cy="905" rx="36" ry="47" transform="rotate(10 400 905)" stroke-width="9.36"/>
<ellipse cx="852" cy="830" rx="57" ry="70" transform="rotate(10 852 830)" stroke-width="15.2" fill="#fff"/>
<ellipse cx="852" cy="830" rx="36" ry="47" transform="rotate(10 852 830)" stroke-width="9.36"/>
<path d="M975 800 C970 770 1000 750 1030 755 L1090 730 L1100 710 L1140 700 L1175 740 L1180 790 L1150 820 L1110 830 L1040 850 C1000 860 980 830 975 800 Z" fill="#fff" stroke-width="12.9"/>
<ellipse cx="1005" cy="805" rx="26" ry="34" stroke-width="10.5"/><ellipse cx="1006" cy="806" rx="10" ry="13" stroke-width="7.02"/>
<path d="M1095 725 C1075 760 1085 810 1110 830 M1120 715 C1100 750 1110 800 1135 820 M1145 705 C1130 740 1140 790 1160 810" stroke-width="10.5"/>
</g>

<!-- p_15_17_20.svg -->
<g transform="translate(840,600) scale(0.13523)" fill="none" stroke="#000" stroke-width="16.4" stroke-linejoin="round" stroke-linecap="round">
<g id="bush15">
<ellipse cx="262" cy="708" rx="110" ry="142" transform="rotate(20 262 708)" fill="#fff"/>
<ellipse cx="287" cy="702" rx="86" ry="124" transform="rotate(20 287 702)" fill="#000"/>
<ellipse cx="292" cy="706" rx="26" ry="50" transform="rotate(20 292 706)" fill="#fff" stroke="none"/>
<path d="M285 690 L280 730" stroke-width="11.7"/>
</g>
<use href="#bush15" transform="translate(290,165)"/>
<path d="M990 215 L795 350 M1040 265 L820 420" stroke-width="18.7"/>
<ellipse cx="808" cy="388" rx="14" ry="36" transform="rotate(25 808 388)" stroke-width="14"/>
<ellipse cx="1062" cy="202" rx="66" ry="46" transform="rotate(-15 1062 202)" stroke-width="21.1"/>
<path d="M1095 1200 L1130 1150 L1190 1130 L1245 1160 L1255 1230 L1220 1290 L1150 1315 L1105 1280 Z" fill="#fff" stroke-width="17.5"/>
<ellipse cx="1192" cy="1225" rx="33" ry="50" transform="rotate(20 1192 1225)" stroke-width="18.7"/>
<path d="M1130 1150 L1150 1230 L1150 1315 M1095 1200 L1125 1260" stroke-width="12.9"/>
</g>

<!-- p_18_19_35_37.svg -->
<g transform="translate(565.4,553.6) rotate(32.2)" fill="#fff" stroke="#000" stroke-width="2.34" stroke-linejoin="round">
<path d="M3 -5.8 H67 V5.8 H3 Z"/>
<ellipse cx="67" cy="0" rx="3.2" ry="5.8" stroke-width="1.75"/>
<path d="M52 -5.8 V5.8 M56 -5.8 V5.8 M60 -5.8 V5.8" stroke-width="1.52"/>
<ellipse cx="3.5" cy="0" rx="4" ry="12"/>
<ellipse cx="0" cy="0" rx="4" ry="12.5"/>
</g>
<g transform="translate(590,455) scale(0.16393)" fill="none" stroke="#000" stroke-width="14" stroke-linejoin="round" stroke-linecap="round">
<path d="M905 735 L1075 800 C1090 815 1080 860 1045 865 L880 800 Z" fill="#fff"/>
<ellipse cx="1062" cy="832" rx="18" ry="33" transform="rotate(20 1062 832)" stroke-width="8.19"/>
<path d="M825 725 L822 800 L862 828 L868 755 Z" fill="#fff"/>
<path d="M825 725 L960 652 L1000 668 L1005 735 M868 755 L1000 680 M960 652 L965 700"/>
<path d="M1640 0 L1640 170 M1755 0 L1755 170"/>
<path d="M1620 170 C1640 200 1740 200 1765 170 L1770 340 C1740 380 1650 380 1620 350 Z" fill="#fff"/>
<path d="M1620 170 C1640 145 1740 145 1765 170 M1650 195 L1650 370 M1740 195 L1745 370" stroke-width="9.36"/>
<path d="M1635 495 L1630 720 L1735 720 L1735 495" fill="#fff"/>
<ellipse cx="1685" cy="495" rx="50" ry="22" fill="#fff" stroke-width="10.5"/>
<path d="M1600 740 L1630 715 L1740 715 L1760 740 L1750 770 L1610 770 Z" fill="#fff"/>
<path d="M1530 800 L1600 745 M1530 800 L1540 900 L1570 930 L1575 1040 L1620 1060 L1640 1040 L1640 950"/>
<path d="M1530 800 L1690 860 L1820 790 L1760 740" stroke-width="22"/>
<path d="M1690 860 L1690 950 L1660 960 L1655 1060 L1700 1090 L1760 1070 L1790 1020 L1800 900 L1830 850 L1820 790"/>
<path d="M1560 830 L1560 900 L1600 880 L1650 900 M1720 880 L1810 830 M1720 920 L1800 870"/>
<ellipse cx="1615" cy="995" rx="18" ry="30" stroke-width="9.36"/>
<ellipse cx="1725" cy="1020" rx="28" ry="40" stroke-width="9.36"/>
<path d="M1710 1040 L1745 1000" stroke-width="7.02"/>
</g>

<!-- p_21_24.svg -->
<g transform="translate(1140,510) scale(0.18501)" fill="none" stroke="#000" stroke-width="14" stroke-linejoin="round" stroke-linecap="round">
<path d="M95 175 C95 135 140 110 175 120 C210 135 210 190 175 215 C140 235 100 215 95 175 Z" stroke-width="10.5"/>
<path d="M135 125 C115 150 115 200 140 225" stroke-width="10.5"/>
<path d="M418 298 L765 500 C790 520 780 550 750 560 L388 352 Z" fill="#fff"/>
<path d="M280 280 C275 245 300 225 330 230 L430 285 C400 295 378 325 383 360 L365 365 L300 325 C285 315 280 300 280 280 Z" fill="#fff"/>
<path d="M330 230 C300 245 290 290 305 325 M430 285 C400 290 375 320 380 360 M400 292 C385 305 378 325 385 355" stroke-width="10.5"/>
<ellipse cx="760" cy="530" rx="20" ry="30" transform="rotate(25 760 530)" stroke-width="9.36"/>
<path d="M75 990 C50 900 110 810 200 805 C280 810 290 910 240 1000 C190 1070 100 1070 75 990 Z" stroke-width="16.4"/>
<path d="M105 985 C85 910 135 835 205 830 C265 840 265 915 225 990 C185 1045 120 1045 105 985 Z" stroke-width="11.7"/>
<path d="M95 850 C60 900 60 980 90 1030" stroke-width="11.7"/>
<path d="M275 1100 C260 1050 270 1000 290 960 C310 920 370 900 420 915 L640 1040 L500 1250 Z" fill="#fff" stroke-width="16.4"/>
<path d="M495 1215 C470 1140 520 1050 600 1035 C665 1040 680 1120 645 1195 C610 1260 520 1280 495 1215 Z" fill="#fff" stroke-width="16.4"/>
<path d="M515 1205 C495 1140 540 1065 600 1055 C650 1060 660 1125 630 1190 C600 1240 535 1255 515 1205 Z" stroke-width="10.5"/>
</g>

<!-- p_25_27.svg -->
<g transform="translate(1300,640) scale(0.11634)" fill="none" stroke="#000" stroke-width="22.2" stroke-linejoin="round" stroke-linecap="round">
<rect x="105" y="390" width="415" height="700" fill="#fbfbfb" stroke="none"/>
<path d="M115 400 L350 540 M110 400 L110 440 L330 560" stroke-width="25.7"/>
<path d="M135 450 C130 540 140 600 180 620 L230 640 M170 480 C165 540 175 580 210 595"/>
<path d="M190 530 L320 590 L330 650 M215 600 L290 630 L300 680" stroke-width="25.7"/>
<path d="M240 690 L240 930 M290 700 L290 900 L330 920 L330 720 M360 740 L360 940 L400 960 L400 780 M440 770 L445 1000" stroke-width="25.7"/>
<path d="M240 930 L510 1080 L515 1045 L480 1030 L475 750 M350 545 L365 640 C375 700 400 730 470 750" stroke-width="25.7"/>
<path d="M1290 250 C1290 170 1370 110 1440 130 C1500 150 1500 240 1450 290 M1290 250 C1300 300 1320 340 1340 350"/>
<path d="M1320 240 C1330 180 1390 150 1430 160" stroke-width="16.4"/>
<ellipse cx="1415" cy="240" rx="26" ry="38" transform="rotate(20 1415 240)" stroke-width="30.4"/>
<path d="M1530 370 C1530 290 1610 230 1670 250 C1720 280 1710 370 1670 410 L1680 430 M1530 370 C1530 420 1545 460 1560 480"/>
<ellipse cx="1630" cy="365" rx="26" ry="38" transform="rotate(20 1630 365)" stroke-width="30.4"/>
<path d="M1680 430 L1790 580 L1780 640 L1390 1190 L1330 1160 L1290 1150 L1240 1200 L1190 1245 L1150 1210 L1070 1120 L1090 1080" stroke-width="17.5"/>
<path d="M1340 350 C1200 500 1050 750 920 960 M1390 330 C1260 480 1110 730 970 960" />
<path d="M1440 330 C1310 500 1150 780 1050 1020 M1490 330 C1370 520 1230 800 1100 1060"/>
<path d="M1560 480 C1500 560 1420 640 1340 680 L1330 700 L1380 690 L1390 720 M1380 690 C1320 800 1220 980 1160 1090 M1340 740 C1280 850 1200 960 1130 1060 M1440 290 L1520 340"/>
<path d="M850 970 L900 940 L1020 1040 L990 1090 L960 1105 L850 1010 Z M980 980 L1100 1040 L1090 1080 M1100 1060 L1160 1090 L1150 1110"/>
<path d="M1110 540 L1160 515 L1210 530 L1170 600 L1120 580 Z" fill="#000"/>
</g>

<!-- p_26_bracket.svg -->
<g transform="translate(1285,805) scale(0.12162)" fill="none" stroke="#000" stroke-width="22.2" stroke-linejoin="round" stroke-linecap="round">
<path d="M160 440 C150 320 200 210 290 200 L330 210 M205 420 C200 330 240 240 310 220"/>
<path d="M160 440 C165 600 190 850 250 1120 M205 420 C210 600 230 850 290 1100"/>
<path d="M160 690 L165 730" stroke-width="32.8"/>
<path d="M130 980 L140 1060 L250 1125 L290 1105 L600 1030 C640 1000 660 950 680 900 C720 800 760 720 860 660 M130 980 L190 960 L195 1010"/>
<path d="M285 800 L600 700 L840 680" stroke-width="30.4"/>
<path d="M285 800 L300 1060 L620 980"/>
<path d="M300 200 L700 405 M400 230 L730 430"/>
<path d="M205 420 L480 560" stroke-width="16.4"/>
<path d="M480 560 C490 470 560 400 640 400 M510 590 C500 520 560 440 640 430 M480 560 L485 680 L600 700"/>
<path d="M590 580 C580 520 620 470 670 470 C710 490 700 570 660 610 C620 630 595 610 590 580 Z" stroke-width="28.1"/>
<path d="M570 600 C550 530 590 470 640 450" stroke-width="16.4"/>
<path d="M700 390 L760 430 L740 470 M740 540 L830 640 L880 600 L860 570 L780 510 M700 480 L760 560"/>
<path d="M600 330 C700 310 780 260 830 190 C860 130 900 90 950 90 L1000 110"/>
<path d="M650 380 C760 350 830 290 880 200 L900 160 M870 160 L930 190 L990 130 M930 190 C900 250 870 300 850 340 L850 420 L760 450"/>
<path d="M1000 110 C1100 170 1200 260 1300 300 C1400 320 1500 360 1640 440"/>
<path d="M1380 320 L1560 420" stroke-width="16.4"/>
<ellipse cx="1020" cy="262" rx="38" ry="60" transform="rotate(25 1020 262)"/>
<path d="M850 420 L860 580 M880 640 L860 660 C950 620 1050 650 1120 720 C1200 800 1250 850 1270 880"/>
<path d="M1330 960 C1270 860 1300 640 1420 520 C1520 420 1700 410 1750 520 C1790 640 1720 850 1600 960 C1500 1050 1380 1040 1330 960 Z" fill="#fff"/>
<path d="M1440 850 C1400 770 1460 640 1540 600 C1620 580 1660 660 1630 750 C1590 850 1490 900 1440 850 Z"/>
<path d="M1540 430 C1410 500 1300 650 1280 810 C1270 870 1285 930 1310 960" stroke-width="16.4"/>
<path d="M1060 720 C1080 780 1090 830 1120 850 L1290 950 M1090 740 L1270 880 M1110 820 L1280 920"/>
</g>

<!-- p_28_bracket.svg -->
<g transform="translate(590,925) scale(0.16729)" fill="none" stroke="#000" stroke-width="16.4" stroke-linejoin="round" stroke-linecap="round">
<path d="M520 130 L570 90 L620 80 L740 145 L770 185 C800 200 830 250 820 310 C800 400 760 470 720 500 L690 490 L710 450"/>
<path d="M545 110 L665 185 M575 90 L700 160" stroke-width="11.7"/>
<path d="M660 380 C650 320 700 270 760 280 C800 300 790 380 740 420 C700 440 665 420 660 380 Z"/>
<ellipse cx="735" cy="350" rx="42" ry="58" transform="rotate(25 735 350)" stroke-width="11.7"/>
<ellipse cx="738" cy="346" rx="22" ry="38" transform="rotate(25 738 346)" stroke-width="18.7"/>
<path d="M665 230 C680 160 760 150 765 210 C770 270 720 320 680 310 C660 290 660 260 665 230 Z" fill="#fff"/>
<ellipse cx="712" cy="232" rx="22" ry="33" transform="rotate(25 712 232)" stroke-width="21.1"/>
<path d="M520 130 C470 100 400 120 385 180 C370 240 400 290 440 290 M500 150 C460 190 440 240 440 290"/>
<path d="M440 290 L380 320 L335 350 L325 430 L350 440 L385 400 L380 320"/>
<path d="M520 135 L245 600 L85 1280 L185 1350 L370 1280 L350 1230"/>
<path d="M650 200 L340 680 L190 1340" stroke-width="28.1"/>
<path d="M690 240 L420 640 M245 600 L345 660" stroke-width="14"/>
<path d="M500 540 L440 630 L480 660 L540 580 L570 510 M510 500 L560 520 M530 470 L580 490 M600 470 L570 510 M640 480 C620 520 600 560 580 580 C540 620 500 660 470 700"/>
<path d="M350 770 C360 700 430 670 460 710 C480 760 440 840 390 860 C350 850 345 810 350 770 Z"/>
<ellipse cx="403" cy="770" rx="25" ry="38" transform="rotate(22 403 770)" stroke-width="21.1"/>
<path d="M440 840 L430 880 C440 920 420 980 390 1010 L380 1050 L350 1230"/>
<path d="M340 960 C335 910 380 890 400 910 C410 950 380 1000 350 1000 Z" stroke-width="21.1"/>
<path d="M330 1040 L380 1050 L370 1070 L340 1070 Z" fill="#000"/>
<path d="M225 1250 C235 1170 330 1140 360 1190 C380 1250 330 1330 270 1335 C230 1320 220 1290 225 1250 Z"/>
<ellipse cx="290" cy="1245" rx="28" ry="40" transform="rotate(22 290 1245)" stroke-width="21.1"/>
<path d="M1220 350 L1225 285 L1250 265 L1350 255 L1365 270 L1340 330 L1330 345"/>
<path d="M1355 340 L1470 320 L1490 335 L1470 370 M1340 380 L1355 340"/>
<path d="M1115 420 C1100 600 1040 760 1000 880 L995 925 M1140 440 C1125 620 1075 770 1040 900 M1190 450 C1175 630 1125 790 1090 930 M1225 470 C1210 650 1160 800 1130 950 M1255 500 C1245 660 1200 800 1155 940"/>
<path d="M1115 420 L1200 360 L1280 340 L1330 345 M1140 440 L1230 380 L1330 360 M1190 450 L1330 390 M1225 470 L1340 420 M1255 500 L1350 440 L1360 380"/>
<path d="M995 925 L1040 900 L1100 960 L1155 940"/>
<path d="M1470 370 C1460 560 1420 760 1350 900 L1340 920" stroke-width="11.7"/>
<path d="M1340 930 C1310 1000 1280 1060 1265 1100 L1290 1115 C1330 1110 1345 1150 1330 1190 C1300 1250 1220 1280 1180 1260 C1150 1230 1160 1100 1130 1010 L1100 960"/>
<ellipse cx="1280" cy="1185" rx="18" ry="28" transform="rotate(25 1280 1185)" stroke-width="11.7"/>
<path d="M1010 950 C1020 1040 1030 1120 1050 1170 C1080 1200 1130 1200 1150 1180 M1040 960 C1050 1040 1080 1120 1100 1160"/>
</g>

<!-- p_30_34.svg -->
<g transform="translate(680,970) scale(0.24194)" fill="none" stroke="#000" stroke-width="9.95" stroke-linejoin="round" stroke-linecap="round">
<rect x="25" y="965" width="350" height="375" fill="#fafafa" stroke="none"/>
<path d="M600 1000 L800 1100 L765 1135 L580 1030 Q575 1005 600 1000 Z" fill="#fff"/>
<path d="M795 1095 L870 1135 C885 1150 875 1190 845 1200 L760 1150 Z" fill="#fff"/>
<ellipse cx="856" cy="1166" rx="20" ry="34" transform="rotate(25 856 1166)" stroke-width="7.02"/>
<path d="M900 1225 C895 1190 925 1170 955 1180 C985 1195 985 1240 960 1260 C930 1275 905 1255 900 1225 Z" fill="#fff"/>
<path d="M935 1180 C920 1200 920 1245 940 1265 M950 1185 C938 1205 938 1245 955 1262" stroke-width="7.02"/>
</g>
<g transform="translate(680,1195) scale(0.07474)" fill="none" stroke="#000" stroke-width="36" stroke-linejoin="round" stroke-linecap="round">
<path d="M645 150 L1190 395 M625 190 L1150 420"/>
<path d="M685 240 L340 530 C320 600 365 680 350 760 C335 830 280 870 230 910 L100 1020 L560 1260" stroke-width="40"/>
<path d="M700 330 L410 590 C395 650 440 710 425 790 C410 860 350 905 270 990 L500 1110 M700 330 L770 370"/>
<path d="M770 370 L480 620 C470 680 515 740 500 810 C490 880 450 930 410 980 L490 1020"/>
<path d="M850 400 L560 650 C550 710 590 770 580 840 C570 910 530 960 490 1020 M850 400 L920 440"/>
<path d="M920 440 L640 680 C630 740 670 800 660 870 C650 950 580 1040 500 1110"/>
<path d="M1110 440 L700 740 C685 800 745 870 735 950 C725 1040 640 1100 580 1140 L480 1210" stroke-width="24"/>
<path d="M1170 420 L740 750 C730 810 800 860 790 950 C780 1050 700 1110 640 1150 L530 1230" stroke-width="24"/>
<path d="M480 1210 L530 1230 L620 1260 L610 1290 L560 1260" stroke-width="30"/>
</g>

<!-- p_33.svg -->
<g transform="translate(880,1040) scale(0.14592)" fill="none" stroke="#000" stroke-width="15.2" stroke-linejoin="round" stroke-linecap="round">
<g id="pist33">
<path d="M180 420 C160 330 210 220 310 180 L360 180 L600 310 L420 590 L190 450 Z" fill="#fff" stroke-width="16.4"/>
<path d="M330 183 L590 325" stroke-width="16.4"/>
<path d="M420 560 C400 470 450 350 550 315 C630 310 660 390 640 470 C610 570 520 640 450 615 C430 600 422 580 420 560 Z" fill="#fff" stroke-width="17.5"/>
<ellipse cx="535" cy="468" rx="82" ry="132" transform="rotate(25 535 468)" stroke-width="7.02"/>
<ellipse cx="526" cy="465" rx="44" ry="80" transform="rotate(20 526 465)" stroke-width="5.85"/>
<circle cx="523" cy="463" r="8" fill="#000" stroke="none"/>
<path d="M490 540 L485 600" stroke-width="5.85"/>
</g>
<use href="#pist33" transform="translate(-50,408)"/>
<g id="ring33">
<path d="M690 700 C670 600 740 480 850 455 C940 460 970 550 940 640 C900 740 800 800 730 770 C705 750 693 725 690 700 Z" stroke-width="16.4"/>
<path d="M722 700 C705 610 765 505 852 485 C920 490 940 560 915 635 C880 720 805 770 750 745 C732 730 724 715 722 700 Z" stroke-width="12.9"/>
<path d="M700 560 C675 620 675 700 700 745" stroke-width="8.19"/>
</g>
<use href="#ring33" transform="translate(-10,475)"/>
</g>

<!-- p_36.svg -->
<defs><g id="bolt36" stroke="#000" stroke-linejoin="round" stroke-linecap="round">
<path d="M11 -4.6 H31 V4.6 H11 Z" fill="#fff" stroke="none"/>
<path d="M11 -4.6 H31" fill="none" stroke-width="2.5"/>
<path d="M11 4.6 H31" fill="none" stroke-width="4"/>
<ellipse cx="31" cy="0" rx="2.4" ry="4.8" fill="#fff" stroke-width="1.8"/>
<path d="M0.5 -4 L3 -7 L9 -7 L10 0 L9 7 L3 7 L0.5 4 Z" fill="#000" stroke-width="2.2"/>
<ellipse cx="10.5" cy="0" rx="2.4" ry="8" fill="#fff" stroke-width="2.4"/>
<ellipse cx="3.5" cy="-0.5" rx="1.2" ry="2.6" fill="#fff" stroke="none"/>
<ellipse cx="6.5" cy="-5.2" rx="2" ry="0.9" fill="#fff" stroke="none"/>
</g></defs>
<use href="#bolt36" transform="translate(784.4,284.2) rotate(28)"/>
<use href="#bolt36" transform="translate(770.7,361.5) rotate(28)"/>

<!-- p_38_10.svg -->
<g transform="translate(985,150) scale(0.19220)" fill="none" stroke="#000" stroke-width="13.5" stroke-linejoin="round" stroke-linecap="round">
<g id="b38">
<path d="M215 215 L220 255 C230 270 255 270 262 255 L262 212" fill="#fff"/>
<path d="M180 185 L195 140 L235 120 L280 135 L295 175 L285 200 L240 215 L200 210 Z" fill="#fff"/>
<path d="M200 150 L240 135 L275 150 L270 185 L235 195 L205 185 Z" stroke-width="9.36"/>
</g>
<use href="#b38" transform="translate(252,-30)"/>
<path d="M240 272 V360 M500 242 V350" stroke-width="4.68"/>
<path d="M200 410 L205 450 C215 475 240 485 260 485 L320 505 C360 525 430 520 470 490 L535 465 C550 450 552 430 545 415" fill="#fff"/>
<path d="M200 410 C200 385 230 370 260 375 L300 350 C340 335 400 340 440 355 L520 375 C550 385 555 410 540 425 L470 450 C430 485 360 490 320 470 L240 450 C210 445 200 430 200 410 Z" fill="#fff"/>
<ellipse cx="245" cy="410" rx="22" ry="10" stroke-width="8.19"/><ellipse cx="495" cy="385" rx="20" ry="10" stroke-width="8.19"/>
<path d="M185 790 L235 830 C265 850 285 880 280 905 C270 930 240 940 215 925 L170 890" fill="#fff"/>
<path d="M200 850 C190 870 195 890 210 900 M225 840 C210 865 215 895 235 910" stroke-width="9.36"/>
<path d="M75 820 C75 770 120 740 160 750 C200 765 210 820 185 860 C160 890 110 890 85 860 C78 848 75 835 75 820 Z" fill="#fff"/>
<path d="M100 880 L130 892 L170 886" stroke-width="9.36"/>
<ellipse cx="368" cy="972" rx="60" ry="72" transform="rotate(20 368 972)" stroke-width="16.4" fill="#fff"/>
<ellipse cx="368" cy="972" rx="38" ry="50" transform="rotate(20 368 972)" stroke-width="11.7"/>
<ellipse cx="782" cy="1218" rx="60" ry="72" transform="rotate(20 782 1218)" stroke-width="16.4" fill="#fff"/>
<ellipse cx="782" cy="1218" rx="38" ry="50" transform="rotate(20 782 1218)" stroke-width="11.7"/>
<path d="M790 1030 C900 990 1050 920 1150 840 C1190 810 1215 780 1230 760 L1260 765 L1335 805 L1330 825 L1305 840 C1290 860 1250 890 1200 930 C1100 1010 950 1080 800 1100 C785 1085 780 1060 790 1030 Z" fill="#fff"/>
<path d="M1300 795 L1335 812" stroke-width="21.1"/>
<path d="M600 1040 L690 1035 M605 1100 L700 1110 M690 1035 L715 1020 L790 1030 M700 1110 L720 1115 L800 1100 M700 1040 L705 1105"/>
<path d="M460 1075 C460 1020 500 985 545 990 C590 1000 610 1045 600 1090 C585 1140 540 1160 500 1145 C470 1130 460 1105 460 1075 Z" fill="#fff"/>
<ellipse cx="515" cy="1070" rx="42" ry="54" transform="rotate(15 515 1070)" stroke-width="10.5"/>
<path d="M480 1050 L550 1090 M515 1020 L515 1120 M550 1040 L480 1100" stroke-width="8.19"/>
</g>

<!-- p_43_40.svg -->
<defs>
<g id="bolt43" stroke-linejoin="round" stroke-linecap="round">
<ellipse cx="305" cy="945" rx="150" ry="188" transform="rotate(25 305 945)" fill="#000"/>
<path d="M200 1040 C165 960 210 850 300 815" fill="none" stroke="#fff" stroke-width="22"/>
<path d="M370 890 L600 1020 L470 1180 L290 1040 Z" fill="#fff" stroke="#000" stroke-width="22"/>
<path d="M390 940 L560 1040" fill="none" stroke="#000" stroke-width="14"/>
<ellipse cx="560" cy="1110" rx="105" ry="150" transform="rotate(25 560 1110)" fill="#fff" stroke="#000" stroke-width="26"/>
<ellipse cx="620" cy="1140" rx="112" ry="150" transform="rotate(25 620 1140)" fill="#fff" stroke="#000" stroke-width="28"/>
<ellipse cx="660" cy="1160" rx="62" ry="85" transform="rotate(25 660 1160)" fill="#fff" stroke="#000" stroke-width="32"/>
</g>
<g id="grom44" stroke-linejoin="round" stroke-linecap="round">
<ellipse cx="1040" cy="905" rx="180" ry="200" transform="rotate(20 1040 905)" fill="#000"/>
<ellipse cx="1130" cy="960" rx="62" ry="82" transform="rotate(30 1130 960)" fill="#fff"/>
<path d="M940 1000 C900 900 960 790 1060 760" fill="none" stroke="#fff" stroke-width="13"/>
<path d="M985 1030 C950 930 1000 830 1090 790" fill="none" stroke="#fff" stroke-width="9"/>
</g>
</defs>
<g transform="translate(1315,60) scale(0.092524)"><use href="#bolt43"/><use href="#grom44"/></g>
<g transform="translate(100,840) scale(0.092524)"><use href="#bolt43" transform="translate(-20,-35)"/><use href="#grom44" transform="translate(40,5)"/></g>

<!-- p_bleeders.svg -->
<defs><g id="bleeder" stroke="#000" stroke-width="2.4" fill="#fff" stroke-linejoin="round">
<path d="M0 -2.2 Q-2.5 0 0 2.2 L6 3.8 L6 -3.8 Z"/>
<rect x="6" y="-4.5" width="4" height="9"/>
<rect x="10" y="-6.5" width="14" height="13"/>
<path d="M10 -2 H24" stroke-width="1.6"/>
<path d="M10 -6.8 H24" stroke-width="3.6"/>
<rect x="24" y="-8" width="4.5" height="16"/>
<rect x="28.5" y="-5.5" width="17" height="11" fill="#000"/>
<path d="M31 -4 L33 4 M35 -4 L37 4 M39 -4 L41 4 M43 -4 L44.5 3" stroke="#fff" stroke-width="1.2" fill="none"/>
</g></defs>
<use href="#bleeder" transform="translate(1308.2,576.2) rotate(-47.6)"/>
<use href="#bleeder" transform="translate(941.3,1018.4) rotate(-42.8) scale(0.94)"/>

<circle class="c" cx="837.4" cy="23.9" r="17.3"/><circle class="c" cx="875.9" cy="23.9" r="17.3"/><circle class="c" cx="701.9" cy="207.0" r="17.3"/><circle class="c" cx="1146.9" cy="208.0" r="17.3"/><circle class="c" cx="742.1" cy="315.1" r="17.3"/><circle class="c" cx="1025.8" cy="406.4" r="17.3"/><circle class="c" cx="1063.9" cy="406.4" r="17.3"/><circle class="c" cx="1271.7" cy="125.4" r="17.3"/><circle class="c" cx="1360.1" cy="91.9" r="17.3"/><circle class="c" cx="1398.7" cy="91.9" r="17.3"/><circle class="c" cx="1459.7" cy="252.2" r="17.3"/><circle class="c" cx="551.2" cy="312.3" r="17.3"/><circle class="c" cx="587.9" cy="312.3" r="17.3"/><circle class="c" cx="406.5" cy="520.8" r="17.3"/><circle class="c" cx="364.7" cy="607.7" r="17.3"/><circle class="c" cx="402.5" cy="607.7" r="17.3"/><circle class="c" cx="146.0" cy="871.9" r="17.3"/><circle class="c" cx="184.4" cy="871.9" r="17.3"/><circle class="c" cx="56.9" cy="905.5" r="17.3"/><circle class="c" cx="804.6" cy="482.9" r="17.3"/><circle class="c" cx="804.6" cy="520.8" r="17.3"/><circle class="c" cx="656.8" cy="520.8" r="17.3"/><circle class="c" cx="695.2" cy="520.8" r="17.3"/><circle class="c" cx="1014.7" cy="497.3" r="17.3"/><circle class="c" cx="1014.1" cy="582.0" r="17.3"/><circle class="c" cx="1040.8" cy="710.5" r="17.3"/><circle class="c" cx="855.8" cy="752.6" r="17.3"/><circle class="c" cx="680.2" cy="822.9" r="17.3"/><circle class="c" cx="802.3" cy="897.8" r="17.3"/><circle class="c" cx="840.1" cy="897.8" r="17.3"/><circle class="c" cx="878.2" cy="897.8" r="17.3"/><circle class="c" cx="1212.8" cy="490.6" r="17.3"/><circle class="c" cx="1251.5" cy="490.6" r="17.3"/><circle class="c" cx="1290.1" cy="490.6" r="17.3"/><circle class="c" cx="1290.1" cy="644.5" r="17.3"/><circle class="c" cx="1328.6" cy="644.5" r="17.3"/><circle class="c" cx="1366.4" cy="644.5" r="17.3"/><circle class="c" cx="456.0" cy="1107.9" r="17.3"/><circle class="c" cx="494.1" cy="1107.9" r="17.3"/><circle class="c" cx="466.0" cy="1244.0" r="17.3"/><circle class="c" cx="162.3" cy="1266.8" r="17.3"/><circle class="c" cx="1069.3" cy="1159.7" r="17.3"/><circle class="c" cx="772.9" cy="1342.1" r="17.3"/><circle class="c" cx="811.0" cy="1342.1" r="17.3"/><circle class="c" cx="849.1" cy="1342.1" r="17.3"/><circle class="c" cx="1369.7" cy="983.1" r="17.3"/><text class="cn" x="836.4" y="32.7">14</text><text class="cn" x="875.9" y="32.7">8</text><text class="cn" x="700.9" y="215.8">11</text><text class="cn" x="1145.9" y="216.8">38</text><text class="cn" x="741.1" y="323.9">36</text><text class="cn" x="1024.8" y="415.2">10</text><text class="cn" x="1062.9" y="415.2">11</text><text class="cn" x="1270.7" y="134.2">45</text><text class="cn" x="1359.1" y="100.7">43</text><text class="cn" x="1397.7" y="100.7">44</text><text class="cn" x="1459.7" y="261.0">3</text><text class="cn" x="550.2" y="321.1">12</text><text class="cn" x="587.9" y="321.1">7</text><text class="cn" x="406.5" y="529.6">6</text><text class="cn" x="364.7" y="616.5">9</text><text class="cn" x="402.5" y="616.5">5</text><text class="cn" x="145.0" y="880.7">40</text><text class="cn" x="183.4" y="880.7">41</text><text class="cn" x="55.9" y="914.3">42</text><text class="cn" x="803.6" y="491.7">35</text><text class="cn" x="803.6" y="529.6">37</text><text class="cn" x="655.8" y="529.6">18</text><text class="cn" x="694.2" y="529.6">19</text><text class="cn" x="1014.7" y="506.1">4</text><text class="cn" x="1013.1" y="590.8">20</text><text class="cn" x="1039.8" y="719.3">17</text><text class="cn" x="854.8" y="761.4">15</text><text class="cn" x="680.2" y="831.7">1</text><text class="cn" x="801.3" y="906.6">28</text><text class="cn" x="839.1" y="906.6">29</text><text class="cn" x="877.2" y="906.6">34</text><text class="cn" x="1211.8" y="499.4">22</text><text class="cn" x="1250.5" y="499.4">23</text><text class="cn" x="1289.1" y="499.4">24</text><text class="cn" x="1289.1" y="653.3">21</text><text class="cn" x="1327.6" y="653.3">27</text><text class="cn" x="1365.4" y="653.3">25</text><text class="cn" x="455.0" y="1116.7">11</text><text class="cn" x="493.1" y="1116.7">10</text><text class="cn" x="465.0" y="1252.8">13</text><text class="cn" x="162.3" y="1275.6">2</text><text class="cn" x="1068.3" y="1168.5">33</text><text class="cn" x="771.9" y="1350.9">30</text><text class="cn" x="810.0" y="1350.9">31</text><text class="cn" x="848.1" y="1350.9">32</text><text class="cn" x="1368.7" y="991.9">26</text>
<rect class="hy" x="819.3" y="15.0" width="40.5" height="28.6"/><rect class="hy" x="865.0" y="15.0" width="40.5" height="28.6"/><rect class="hc" x="683.8" y="198.1" width="40.5" height="28.6"/><rect class="hy" x="1128.8" y="199.1" width="40.5" height="28.6"/><rect class="hy" x="724.0" y="306.2" width="40.5" height="28.6"/><rect class="hc" x="1007.7" y="397.5" width="40.5" height="28.6"/><rect class="hc" x="1045.8" y="397.5" width="40.5" height="28.6"/><rect class="hy" x="1253.6" y="116.5" width="40.5" height="28.6"/><rect class="hy" x="1342.0" y="83.0" width="40.5" height="28.6"/><rect class="hy" x="1380.6" y="83.0" width="40.5" height="28.6"/><rect class="hy" x="1448.8" y="243.3" width="40.5" height="28.6"/><rect class="hy" x="533.1" y="303.4" width="40.5" height="28.6"/><rect class="hy" x="577.0" y="303.4" width="40.5" height="28.6"/><rect class="hy" x="395.6" y="511.9" width="40.5" height="28.6"/><rect class="hy" x="353.8" y="598.8" width="40.5" height="28.6"/><rect class="hy" x="391.6" y="598.8" width="40.5" height="28.6"/><rect class="hy" x="127.9" y="863.0" width="40.5" height="28.6"/><rect class="hy" x="166.3" y="863.0" width="40.5" height="28.6"/><rect class="hy" x="38.8" y="896.6" width="40.5" height="28.6"/><rect class="hy" x="786.5" y="474.0" width="40.5" height="28.6"/><rect class="hy" x="786.5" y="511.9" width="40.5" height="28.6"/><rect class="hy" x="638.7" y="511.9" width="40.5" height="28.6"/><rect class="hy" x="677.1" y="511.9" width="40.5" height="28.6"/><rect class="hy" x="1003.8" y="488.4" width="40.5" height="28.6"/><rect class="hy" x="996.0" y="573.1" width="40.5" height="28.6"/><rect class="hy" x="1022.7" y="701.6" width="40.5" height="28.6"/><rect class="hy" x="837.7" y="743.7" width="40.5" height="28.6"/><rect class="hy" x="669.3" y="814.0" width="40.5" height="28.6"/><rect class="hy" x="784.2" y="888.9" width="40.5" height="28.6"/><rect class="hy" x="822.0" y="888.9" width="40.5" height="28.6"/><rect class="hy" x="860.1" y="888.9" width="40.5" height="28.6"/><rect class="hy" x="1194.7" y="481.7" width="40.5" height="28.6"/><rect class="hy" x="1233.4" y="481.7" width="40.5" height="28.6"/><rect class="hy" x="1272.0" y="481.7" width="40.5" height="28.6"/><rect class="hy" x="1272.0" y="635.6" width="40.5" height="28.6"/><rect class="hy" x="1310.5" y="635.6" width="40.5" height="28.6"/><rect class="hy" x="1348.3" y="635.6" width="40.5" height="28.6"/><rect class="hc" x="437.9" y="1099.0" width="40.5" height="28.6"/><rect class="hc" x="476.0" y="1099.0" width="40.5" height="28.6"/><rect class="hy" x="447.9" y="1235.1" width="40.5" height="28.6"/><rect class="hy" x="151.4" y="1257.9" width="40.5" height="28.6"/><rect class="hy" x="1051.2" y="1150.8" width="40.5" height="28.6"/><rect class="hy" x="754.8" y="1333.2" width="40.5" height="28.6"/><rect class="hy" x="792.9" y="1333.2" width="40.5" height="28.6"/><rect class="hy" x="831.0" y="1333.2" width="40.5" height="28.6"/><rect class="hy" x="1351.6" y="974.2" width="40.5" height="28.6"/>
<!-- 90_overlay.svg -->
<g fill="#ff0000" fill-opacity="0.6">
<path d="M581.1 283 H605.9 L593.5 303.3 Z"/>
<path d="M581.1 352.7 H605.9 L593.5 332.4 Z"/>
<path d="M556.7 309.7 V329.8 L581.1 319.7 Z"/>
<path d="M638.3 309.5 V329.8 L614 319.7 Z"/>
</g>
<text class="tx" x="571" y="1422.3" font-size="29.4" stroke="#000" stroke-width="0.3">© Copyright 2020 Betamotor S.p.A.</text>

</svg>
</body></html>
